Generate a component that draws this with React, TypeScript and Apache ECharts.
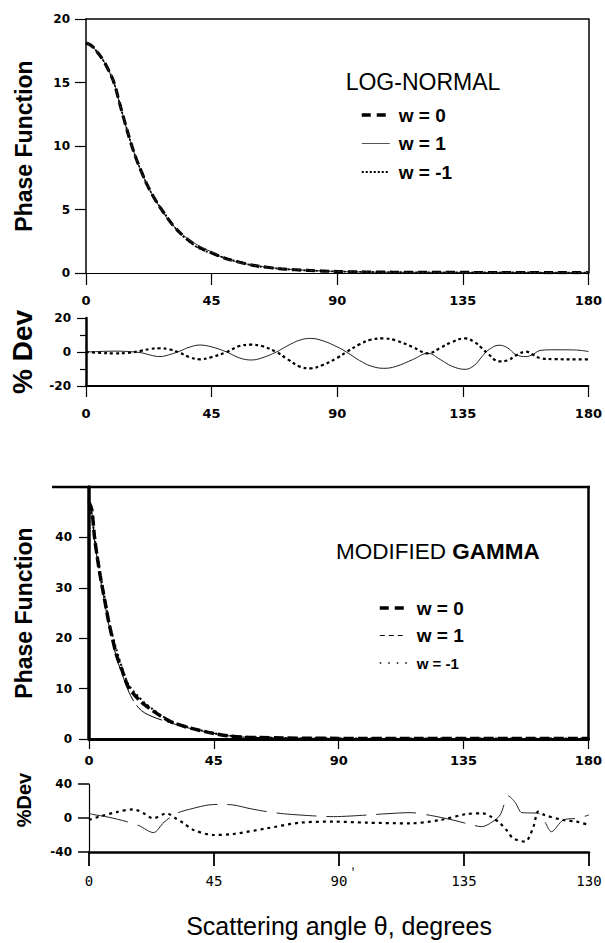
import React, { useEffect, useRef } from 'react';
import * as echarts from 'echarts';

// ---------- LOG-NORMAL phase function ----------
const lnAngles = [0, 2, 4, 6, 8, 10, 12, 14, 16, 18, 20, 22, 25, 28, 31, 35, 40, 45, 50, 55, 60, 65, 70, 80, 90, 100, 110, 120, 130, 140, 150, 160, 170, 180];
const lnW0 = [18.1, 17.9, 17.4, 16.8, 16.0, 15.0, 13.4, 11.8, 10.3, 9.0, 7.9, 6.9, 5.7, 4.7, 3.8, 2.9, 2.1, 1.6, 1.15, 0.85, 0.6, 0.45, 0.33, 0.2, 0.12, 0.08, 0.06, 0.05, 0.05, 0.04, 0.04, 0.04, 0.03, 0.03];
const lnW1 = [18.1, 17.9, 17.4, 16.8, 16.0, 15.0, 13.4, 11.8, 10.3, 9.0, 7.9, 6.9, 5.7, 4.65, 3.8, 2.95, 2.2, 1.65, 1.13, 0.82, 0.62, 0.47, 0.34, 0.21, 0.12, 0.075, 0.055, 0.05, 0.048, 0.037, 0.04, 0.041, 0.03, 0.03];
const lnWm1 = [18.1, 17.9, 17.4, 16.8, 16.0, 15.0, 13.4, 11.8, 10.3, 9.0, 7.9, 6.9, 5.7, 4.75, 3.8, 2.85, 2.0, 1.55, 1.17, 0.88, 0.58, 0.43, 0.32, 0.19, 0.12, 0.085, 0.065, 0.05, 0.052, 0.043, 0.04, 0.039, 0.03, 0.03];

// ---------- LOG-NORMAL % deviation ----------
const lnDevAngles = [0, 5, 10, 15, 20, 23, 26.5, 30, 33.6, 37, 40.8, 45, 50.4, 55, 59.3, 63, 68.2, 72, 76.6, 80.5, 85, 90, 93.3, 98, 102, 106.7, 111, 117, 122.5, 127, 131, 135.8, 139, 142, 144, 148, 151, 154, 157.7, 160, 163, 168, 175, 180];
const lnDevW1 = [0, 0.3, 0.5, 0.3, -0.5, -1.8, -2.7, -1.5, 0.5, 2.8, 4.1, 3.0, 0, -3.5, -4.7, -3.5, 0, 3.5, 7.0, 8.0, 6.5, 3.0, 0, -5, -8.2, -9.6, -8.5, -4.5, -0.8, -4.5, -8.3, -10.2, -8, -2.5, 1.0, 4.0, 2.5, -1.5, -2.7, -1.5, 1.0, 1.3, 1.2, 0.3];
const lnDevWm1 = [0, -0.5, -0.8, -0.5, 0.8, 1.8, 2.2, 1.5, -0.5, -3, -4.3, -3, 0, 3.5, 4.3, 3.5, 0, -4, -8.6, -9.6, -7.5, -3.5, 0, 4.5, 7.2, 8.0, 6.8, 3, -0.8, 2.5, 5.8, 8.0, 6, 2, -1, -5.5, -5, -2, 0.2, -1.5, -3.7, -4.2, -4.3, -4.3];

// ---------- MODIFIED GAMMA phase function ----------
const gmAngles = [0, 1, 2, 3, 4, 5, 6, 7, 8, 10, 12, 14, 16, 18, 20, 23, 26, 30, 35, 40, 45, 50, 55, 60, 70, 80, 90, 100, 120, 140, 160, 180];
const gmW0 = [47, 45.5, 40, 36, 32.5, 29.5, 26.5, 23.5, 21, 16.5, 13.5, 10.5, 9.0, 7.8, 6.8, 5.6, 4.5, 3.3, 2.4, 1.7, 1.1, 0.65, 0.4, 0.3, 0.2, 0.15, 0.12, 0.1, 0.1, 0.1, 0.1, 0.1];
const gmW1 = [47, 45, 39.5, 35.5, 32, 29, 26, 23, 20.5, 16, 12.8, 9.8, 7.6, 6.1, 5.2, 4.4, 3.8, 3.1, 2.3, 1.7, 1.1, 0.65, 0.4, 0.3, 0.2, 0.15, 0.12, 0.1, 0.1, 0.1, 0.1, 0.1];
const gmWm1 = [46, 44.5, 40, 36.5, 33, 30, 27, 24, 21.5, 17.5, 14, 11, 9.5, 8.3, 7.2, 5.9, 4.7, 3.4, 2.5, 1.75, 1.15, 0.7, 0.42, 0.3, 0.2, 0.15, 0.12, 0.1, 0.1, 0.1, 0.1, 0.1];

// ---------- MODIFIED GAMMA % deviation ----------
const gmDevW1Angles = [0, 1.2, 7, 13.6, 18, 23.2, 27, 31.6, 37.6, 42.9, 47, 52, 58, 64, 70, 76, 82, 88, 94, 100, 108, 115.6, 123, 131, 136, 141.4, 145, 148, 151, 153.5, 155.8, 158.5, 161.7, 164, 166.5, 170.7, 175.5, 180];
const gmDevW1 = [5.5, 4.3, 1, -4.3, -9, -17.2, -5, 5.5, 11.4, 15.3, 16, 15.3, 11, 7.5, 5, 3.5, 2.3, 1.6, 2.3, 3.5, 5.2, 6.3, 3, -2.4, -6.5, -10.2, -5, 3.5, 25.9, 18, 6.3, 6, 5.5, -4, -16.1, -2.4, -0.4, 3.5];
const gmDevWm1Angles = [0, 3.6, 10, 16, 20, 23, 28, 31, 34, 37.6, 44.8, 52, 64, 76, 88, 100, 115.6, 126.4, 136, 141.8, 145, 148, 150.5, 152.7, 157, 160, 161.7, 164, 170.7, 175.5, 180];
const gmDevWm1 = [-2.4, 1.6, 7, 10.2, 5, -0.4, 5.5, 0, -6, -14, -20, -18.8, -12.2, -5.5, -4.3, -5.5, -6.3, -2.4, 4.7, 5.5, 1, -6.3, -15, -23.9, -27.8, -10.2, 7.5, 3.5, -2.4, -4.3, -8.2];

// ---------- tick labels ----------
const angleTicks = [0, 45, 90, 135, 180];
const bottomTickLabels = ['0', '45', '90', '135', '130'];
const legendNames = ['w = 0', 'w = 1', 'w = -1'];

const pairs = (a: number[], v: number[]) => a.map((x, i) => [x, v[i]]);

const black = '#000';
const tickFont = { fontFamily: 'DejaVu Sans', fontWeight: 'bold', fontSize: 12, color: black };
const titleFont = { fontFamily: 'Liberation Sans', fontWeight: 'bold', color: black };
const hiddenSymbol = { color: 'rgba(0,0,0,0)', borderColor: 'rgba(0,0,0,0)', borderWidth: 0, opacity: 0 };

function xAx(grid: number, lineW: number, tickLen: number, margin: number, extra: any = {}) {
  return {
    gridIndex: grid, type: 'value', min: 0, max: 180, interval: 45,
    axisLine: { onZero: false, lineStyle: { color: black, width: lineW } },
    axisTick: { length: tickLen, lineStyle: { color: black, width: 1.2 } },
    axisLabel: { ...tickFont, fontSize: 13, margin },
    splitLine: { show: false },
    ...extra,
  };
}

function lineSeries(name: string, x: number, y: number, data: any[], style: any, smooth = 0.4) {
  return {
    name, type: 'line', xAxisIndex: x, yAxisIndex: y, data, symbol: 'none', smooth,
    color: black,
    lineStyle: { color: black, ...style }, silent: true, z: 3,
  };
}

const option: any = {
  animation: false,
  backgroundColor: '#fff',
  grid: [
    { left: 86, top: 19, width: 503, height: 254 },
    { left: 86, top: 318, width: 503, height: 68 },
    { left: 89, top: 487, width: 501, height: 252 },
    { left: 89, top: 784, width: 500, height: 68 },
  ],
  xAxis: [
    xAx(0, 1.2, 12, 21),
    { gridIndex: 0, type: 'value', position: 'top', min: 0, max: 180, axisLine: { onZero: false, lineStyle: { color: black, width: 1.5 } }, axisTick: { show: false }, axisLabel: { show: false }, splitLine: { show: false } },
    xAx(1, 2, 11, 21),
    xAx(2, 3, 10, 15),
    xAx(3, 2.5, 14, 22, {
      axisTick: { length: 14, lineStyle: { color: black, width: 1.8 } },
      axisLabel: {
        fontFamily: 'DejaVu Sans Mono', fontSize: 14, color: black, margin: 22,
        formatter: (v: number) => bottomTickLabels[angleTicks.indexOf(v)] ?? '',
      },
      name: 'Scattering angle \u03b8, degrees', nameLocation: 'middle', nameGap: 61,
      nameTextStyle: { fontFamily: 'Liberation Sans', fontSize: 25, color: black },
    }),
  ],
  yAxis: [
    {
      gridIndex: 0, type: 'value', min: 0, max: 20, interval: 5,
      axisLine: { onZero: false, lineStyle: { color: black, width: 1.5 } },
      axisTick: { length: 11, lineStyle: { color: black, width: 1.2 } },
      axisLabel: { ...tickFont, margin: 16 }, splitLine: { show: false },
      name: 'Phase Function', nameLocation: 'middle', nameGap: 51,
      nameTextStyle: { ...titleFont, fontSize: 23 },
    },
    { gridIndex: 0, type: 'value', position: 'right', min: 0, max: 20, axisLine: { onZero: false, lineStyle: { color: black, width: 1.5 } }, axisTick: { show: false }, axisLabel: { show: false }, splitLine: { show: false } },
    {
      gridIndex: 1, type: 'value', min: -20, max: 20, interval: 20,
      axisLine: { onZero: false, lineStyle: { color: black, width: 2.5 } },
      axisTick: { length: 9, lineStyle: { color: black, width: 1.2 } },
      minorTick: { show: true, splitNumber: 2, length: 6, lineStyle: { color: black, width: 1.2 } },
      axisLabel: { ...tickFont, margin: 15 }, splitLine: { show: false }, minorSplitLine: { show: false },
      name: '% Dev', nameLocation: 'middle', nameGap: 50,
      nameTextStyle: { ...titleFont, fontSize: 28 },
    },
    {
      gridIndex: 2, type: 'value', min: 0, max: 50, interval: 10,
      axisLine: { onZero: false, lineStyle: { color: black, width: 3.5 } },
      axisTick: { length: 10, lineStyle: { color: black, width: 1.2 } },
      axisLabel: { ...tickFont, margin: 17, formatter: (v: number) => (v === 50 ? '' : String(v)) },
      splitLine: { show: false },
      name: 'Phase Function', nameLocation: 'middle', nameGap: 54,
      nameTextStyle: { ...titleFont, fontSize: 23 },
    },
    { gridIndex: 2, type: 'value', position: 'right', min: 0, max: 50, axisLine: { onZero: false, lineStyle: { color: black, width: 2.5 } }, axisTick: { show: false }, axisLabel: { show: false }, splitLine: { show: false } },
    {
      gridIndex: 3, type: 'value', min: -40, max: 40, interval: 40,
      axisLine: { onZero: false, lineStyle: { color: black, width: 1.2 } },
      axisTick: { length: 11, lineStyle: { color: black, width: 1.5 } },
      axisLabel: { ...tickFont, margin: 17 }, splitLine: { show: false },
    },
  ],
  legend: [
    {
      orient: 'vertical', left: 355, top: 100, itemWidth: 28, itemHeight: 12, itemGap: 8.5,
      selectedMode: false,
      itemStyle: hiddenSymbol,
      textStyle: { fontFamily: 'Liberation Sans', fontWeight: 'bold', fontSize: 19, color: black, lineHeight: 20, padding: [0, 0, 0, 4] },
      data: [
        { name: legendNames[0], itemStyle: hiddenSymbol, lineStyle: { color: black, width: 3.5, type: [9, 6] } },
        { name: legendNames[1], itemStyle: hiddenSymbol, lineStyle: { color: '#555', width: 1, type: 'solid' } },
        { name: legendNames[2], itemStyle: hiddenSymbol, lineStyle: { color: black, width: 2, type: [2, 2] } },
      ],
    },
    {
      orient: 'vertical', left: 373, top: 593, itemWidth: 27, itemHeight: 12, itemGap: 7.5,
      selectedMode: false,
      itemStyle: hiddenSymbol,
      textStyle: { fontFamily: 'Liberation Sans', fontWeight: 'bold', fontSize: 19, color: black, lineHeight: 20, padding: [0, 0, 0, 5] },
      data: [
        { name: legendNames[0], itemStyle: hiddenSymbol, lineStyle: { color: black, width: 3.5, type: [9, 6] } },
        { name: legendNames[1], itemStyle: hiddenSymbol, lineStyle: { color: black, width: 1, type: [5, 4] } },
        { name: legendNames[2], itemStyle: hiddenSymbol, lineStyle: { color: black, width: 1.5, type: [1.5, 7] }, textStyle: { fontSize: 15 } },
      ],
    },
  ],
  series: [
    lineSeries(legendNames[0], 0, 0, pairs(lnAngles, lnW0), { width: 3.2, type: [9, 5] }),
    lineSeries(legendNames[1], 0, 0, pairs(lnAngles, lnW1), { width: 1, color: '#333' }),
    lineSeries(legendNames[2], 0, 0, pairs(lnAngles, lnWm1), { width: 1.8, type: [2, 2] }),

    lineSeries('% Dev w = 1 (log-normal)', 2, 2, pairs(lnDevAngles, lnDevW1), { width: 1, color: '#222' }),
    lineSeries('% Dev w = -1 (log-normal)', 2, 2, pairs(lnDevAngles, lnDevWm1), { width: 2.2, type: [3, 3] }),

    lineSeries(legendNames[0], 3, 3, pairs(gmAngles, gmW0), { width: 3.5, type: [10, 4] }, 0.3),
    lineSeries(legendNames[1], 3, 3, pairs(gmAngles, gmW1), { width: 1, type: [30, 5] }, 0.3),
    lineSeries(legendNames[2], 3, 3, pairs(gmAngles, gmWm1), { width: 2, type: [2, 3] }, 0.3),

    lineSeries('% Dev w = 1 (modified gamma)', 4, 5, pairs(gmDevW1Angles, gmDevW1), { width: 1, color: '#222', type: [40, 10] }, 0.3),
    lineSeries('% Dev w = -1 (modified gamma)', 4, 5, pairs(gmDevWm1Angles, gmDevWm1), { width: 2.2, type: [3, 4] }, 0.3),
  ],
  graphic: [
    { type: 'line', shape: { x1: 52, y1: 487, x2: 590, y2: 487 }, style: { stroke: black, lineWidth: 2.5 } },
    {
      type: 'text', x: 423, y: 82,
      style: { text: 'LOG-NORMAL', fontFamily: 'Liberation Sans', fontSize: 23, fill: black, align: 'center', verticalAlign: 'middle' },
    },
    {
      type: 'text', x: 336, y: 551,
      style: {
        text: '{a|MODIFIED }{b|GAMMA}', verticalAlign: 'middle', align: 'left',
        rich: {
          a: { fontFamily: 'Liberation Sans', fontSize: 22.5, fill: black },
          b: { fontFamily: 'Liberation Sans', fontSize: 22.5, fontWeight: 'bold', fill: black },
        },
      },
    },
    {
      type: 'text', x: 24, y: 800, rotation: Math.PI / 2,
      style: { text: '%Dev', fontFamily: 'Liberation Sans', fontWeight: 'bold', fontSize: 20, fill: black, align: 'center', verticalAlign: 'middle' },
    },
    { type: 'text', x: 351, y: 857, style: { text: ',', fontFamily: 'Liberation Sans', fontSize: 14, fill: black } },
  ],
};

export default function App() {
  const ref = useRef<HTMLDivElement>(null);
  useEffect(() => {
    const chart = echarts.init(ref.current!, null, { renderer: 'svg' });
    chart.setOption(option);
    return () => chart.dispose();
  }, []);
  return (
    <div
      ref={ref}
      style={{ position: 'fixed', left: 0, top: 0, width: 605, height: 943, background: '#fff' }}
    />
  );
}
